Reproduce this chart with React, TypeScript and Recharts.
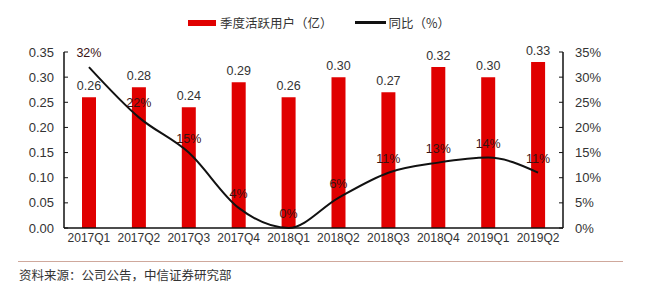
import { ComposedChart, Bar, Line, XAxis, YAxis, LabelList } from 'recharts';

const quarters = ['2017Q1', '2017Q2', '2017Q3', '2017Q4', '2018Q1', '2018Q2', '2018Q3', '2018Q4', '2019Q1', '2019Q2'];
const activeUsers = [0.26, 0.28, 0.24, 0.29, 0.26, 0.3, 0.27, 0.32, 0.3, 0.33];
const yoyGrowth = [32, 22, 15, 4, 0, 6, 11, 13, 14, 11];
const leftTicks = [0, 0.05, 0.1, 0.15, 0.2, 0.25, 0.3, 0.35];
const rightTicks = [0, 5, 10, 15, 20, 25, 30, 35];

const data = quarters.map((q, i) => ({ q, users: activeUsers[i], yoy: yoyGrowth[i] }));

const numFont = '"Liberation Sans", Arial, sans-serif';
const cjkFont = '"Noto Sans CJK SC", "Liberation Sans", sans-serif';

export default function App() {
  return (
    <div style={{ position: 'absolute', left: 0, top: 0, width: 650, height: 294, background: '#fff', fontFamily: numFont }}>
      {/* legend */}
      <div style={{ position: 'absolute', top: 13, left: 188, display: 'flex', alignItems: 'center', fontFamily: cjkFont, fontSize: 12.5, color: '#333' }}>
        <span style={{ display: 'inline-block', width: 28, height: 6, background: '#e00000', marginRight: 4 }} />
        <span>季度活跃用户（亿）</span>
        <span style={{ display: 'inline-block', width: 31, height: 3, background: '#111', marginLeft: 22, marginRight: 3 }} />
        <span>同比（%）</span>
      </div>

      <ComposedChart width={650} height={294} data={data} margin={{ top: 52, right: 30, bottom: 46, left: 0 }}>
        <XAxis
          dataKey="q"
          tickLine={false}
          tickSize={0}
          tickMargin={5}
          axisLine={{ stroke: '#111', strokeWidth: 1.5 }}
          tick={{ fontSize: 12, fill: '#333', fontFamily: numFont }}
          interval={0}
          height={20}
        />
        <YAxis
          yAxisId="left"
          domain={[0, 0.35]}
          ticks={leftTicks}
          tickFormatter={(v: number) => v.toFixed(2)}
          width={64}
          tickSize={-4}
          tickMargin={14}
          axisLine={{ stroke: '#111', strokeWidth: 1.5 }}
          tickLine={{ stroke: '#111' }}
          tick={{ fontSize: 13, fill: '#333', fontFamily: numFont }}
        />
        <YAxis
          yAxisId="right"
          orientation="right"
          domain={[0, 35]}
          ticks={rightTicks}
          tickFormatter={(v: number) => `${v}%`}
          width={57}
          tickSize={-4}
          tickMargin={16}
          axisLine={{ stroke: '#111', strokeWidth: 1.5 }}
          tickLine={{ stroke: '#111' }}
          tick={{ fontSize: 13, fill: '#333', fontFamily: numFont, textAnchor: 'start' }}
        />
        <Bar yAxisId="left" dataKey="users" fill="#e00000" barSize={14} isAnimationActive={false}>
          <LabelList
            dataKey="users"
            position="top"
            offset={7}
            formatter={(v: number) => v.toFixed(2)}
            style={{ fontSize: 12.5, fill: '#333', fontFamily: numFont }}
          />
        </Bar>
        <Line
          yAxisId="right"
          dataKey="yoy"
          type="monotone"
          stroke="#111"
          strokeWidth={2}
          dot={false}
          isAnimationActive={false}
        >
          <LabelList
            dataKey="yoy"
            position="top"
            offset={10}
            formatter={(v: number) => `${v}%`}
            style={{ fontSize: 12.5, fill: '#3a1212', fontFamily: numFont }}
          />
        </Line>
      </ComposedChart>

      {/* source note */}
      <div style={{ position: 'absolute', left: 18, top: 261, width: 605, height: 1, background: '#cfa89c' }} />
      <div style={{ position: 'absolute', left: 19, top: 265, fontFamily: cjkFont, fontSize: 12.5, color: '#333' }}>
        资料来源：公司公告，中信证券研究部
      </div>
    </div>
  );
}
